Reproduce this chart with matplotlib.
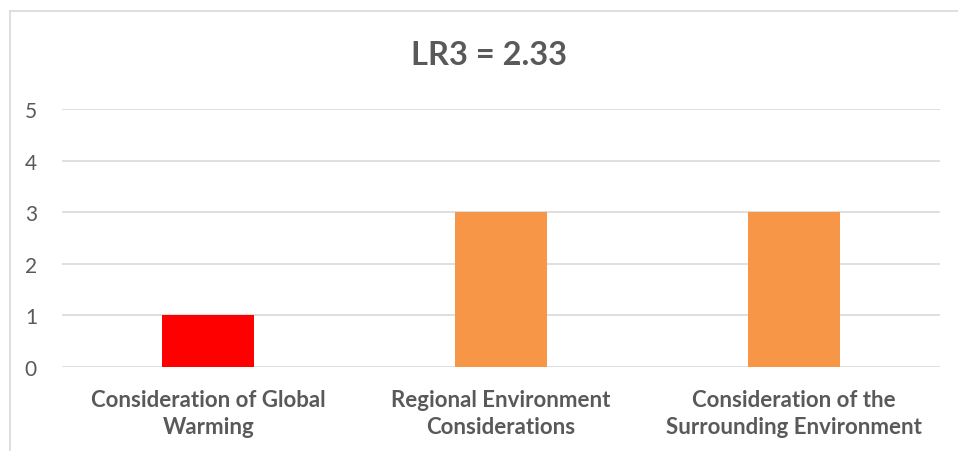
import matplotlib.pyplot as plt
from matplotlib.lines import Line2D

categories = ["Consideration of Global\nWarming",
              "Regional Environment\nConsiderations",
              "Consideration of the\nSurrounding Environment"]
values = [1, 3, 3]
bar_colors = ["#ff0000", "#f79646", "#f79646"]
title = "LR3 = 2.33"

plt.rcParams['font.family'] = ['Lato', 'DejaVu Sans']
grey = "#595959"

fig = plt.figure(figsize=(9.58, 4.52), dpi=100)
ax = fig.add_axes([62 / 958, 1 - 368 / 452, (940 - 62) / 958, (368 - 110) / 452])

x = range(len(categories))
ax.bar(x, values, width=0.315, color=bar_colors, zorder=3)
ax.set_xlim(-0.5, len(categories) - 0.5)
ax.set_ylim(0, 5)
ax.set_yticks(range(0, 6))
ax.set_xticks(list(x))
ax.set_xticklabels(categories, fontweight='bold', fontsize=16, color=grey, linespacing=1.36)
ax.tick_params(axis='y', labelsize=15, labelcolor=grey, length=0, pad=18)
ax.tick_params(axis='x', length=0, pad=16)
ax.grid(axis='y', color='#d9d9d9', linewidth=1.2, zorder=0)
for s in ax.spines.values():
    s.set_visible(False)

fig.text(489 / 958, 1 - 55.5 / 452, title, ha='center', va='center',
         fontsize=23.5, fontweight='bold', color=grey)

# chart frame
fig.add_artist(Line2D([10 / 958, 10 / 958], [0, 1 - 12 / 452], color='#d9d9d9', linewidth=1.2))
fig.add_artist(Line2D([10 / 958, 1], [1 - 12 / 452, 1 - 12 / 452], color='#d9d9d9', linewidth=1.2))

fig.savefig("out.png", dpi=100)
